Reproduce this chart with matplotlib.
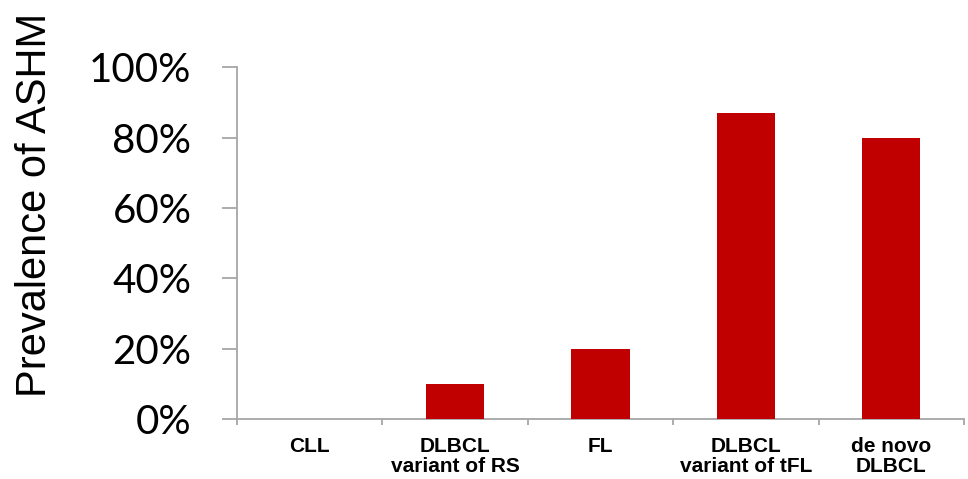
import matplotlib
matplotlib.use("Agg")
import matplotlib.pyplot as plt
import numpy as np
from matplotlib.ticker import FixedLocator, FuncFormatter

categories = ["CLL", "DLBCL\nvariant of RS", "FL", "DLBCL\nvariant of tFL", "de novo\nDLBCL"]
prevalence = [0.0, 0.10, 0.20, 0.87, 0.80]
y_ticks = [0.0, 0.2, 0.4, 0.6, 0.8, 1.0]

bar_color = "#C00000"
axis_color = "#A6A6A6"

fig = plt.figure(figsize=(9.68, 4.79), dpi=100)
ax = fig.add_axes([237 / 968, 1 - 419 / 479, 727 / 968, (419 - 67.3) / 479])

x = np.arange(len(categories))
ax.bar(x, prevalence, width=0.4, color=bar_color, zorder=3)

ax.set_xlim(-0.5, len(categories) - 0.5)
ax.set_ylim(0, 1.0)

for side in ("top", "right"):
    ax.spines[side].set_visible(False)
for side in ("left", "bottom"):
    ax.spines[side].set_color(axis_color)
    ax.spines[side].set_linewidth(1.3)

# y axis: percentage ticks
ax.yaxis.set_major_locator(FixedLocator(y_ticks))
ax.yaxis.set_major_formatter(FuncFormatter(lambda v, _: f"{v * 100:.0f}%"))
ax.tick_params(axis="y", direction="out", length=10.8, width=1.3, color=axis_color, pad=22)
for lbl in ax.get_yticklabels():
    lbl.set_fontfamily("Lato")
    lbl.set_fontsize(29)

# x axis: ticks at category boundaries, labels centred on bars
ax.xaxis.set_major_locator(FixedLocator(np.arange(-0.5, len(categories), 1.0)))
ax.xaxis.set_major_formatter(FuncFormatter(lambda v, _: ""))
ax.xaxis.set_minor_locator(FixedLocator(x))
ax.set_xticklabels(categories, minor=True)
ax.tick_params(axis="x", which="major", direction="out", length=4.5, width=1.3, color=axis_color)
ax.tick_params(axis="x", which="minor", length=0, pad=13)
for lbl in ax.get_xticklabels(minor=True):
    lbl.set_fontfamily("Liberation Sans")
    lbl.set_fontweight("bold")
    lbl.set_fontsize(15)
    lbl.set_linespacing(1.05)
    lbl.set_verticalalignment("top")

fig.text(35 / 968, 1 - 204.5 / 479, "Prevalence of ASHM", rotation=90,
         ha="center", va="center", fontsize=30, family="Liberation Sans")

fig.savefig("out.png", dpi=100, facecolor="white")
